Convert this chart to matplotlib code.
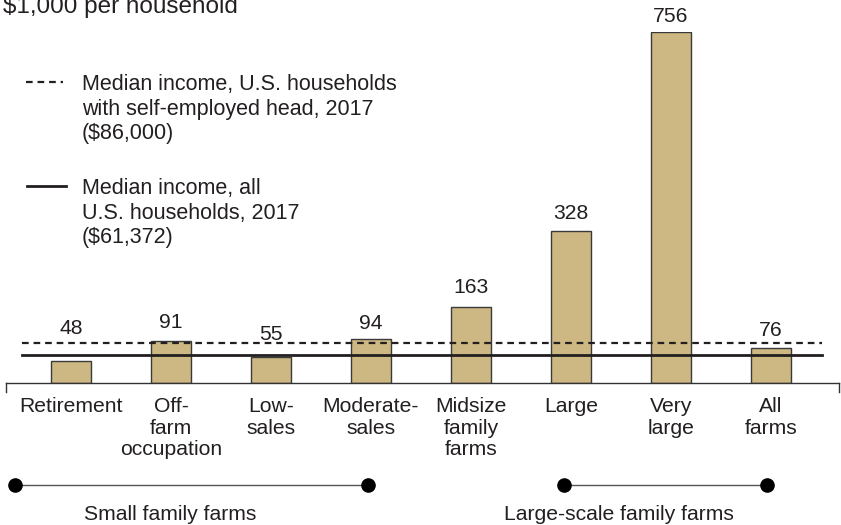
import matplotlib
matplotlib.use('agg')
import matplotlib.pyplot as plt
import numpy as np

plt.rcParams['font.family'] = ['Liberation Sans', 'DejaVu Sans']

categories = ['Retirement', 'Off-\nfarm\noccupation', 'Low-\nsales', 'Moderate-\nsales',
              'Midsize\nfamily\nfarms', 'Large', 'Very\nlarge', 'All\nfarms']
income = [48, 91, 55, 94, 163, 328, 756, 76]   # $1,000 per household
median_self_employed = 86.0
median_all = 61.372
groups = ['Small family farms', 'Large-scale family farms']
group_span = [(-0.56, 2.97), (4.93, 6.96)]
group_label_x = [0.99, 5.48]

# pixel gap between bar top and value label (48 and 55 lifted over the lines)
label_gap_px = [32, 18, 23, 16, 20, 17, 15, 17]

W, H = 841, 525
fig = plt.figure(figsize=(W / 100, H / 100), dpi=100)
# axes: baseline at y=383px, 756 at y=32px; x from 6px to 839px
ax = fig.add_axes([6 / W, (H - 383) / H, (839 - 6) / W, 351 / H])
x = np.arange(len(income))
ax.set_xlim((6 - 71) / 100, (839 - 71) / 100)
ax.set_ylim(0, 756)
upp = 756 / 351.0  # data units per pixel

txt = '#231f20'
ax.bar(x, income, width=0.4, color='#cdb883', edgecolor='#3a3a3a', linewidth=1.0, zorder=2)

xl = ax.get_xlim()
ax.plot([-0.49, 7.51], [median_self_employed] * 2, color='#231f20', lw=1.6,
        linestyle=(0, (3, 2.2)), zorder=3, clip_on=False)
ax.plot([-0.49, 7.51], [median_all] * 2, color='#231f20', lw=2.0, zorder=3, clip_on=False)

for i, v in enumerate(income):
    ax.text(i, v + label_gap_px[i] * upp, str(v), ha='center', va='center',
            fontsize=15.2, color=txt, clip_on=False)

for s in ['top', 'left', 'right']:
    ax.spines[s].set_visible(False)
ax.spines['bottom'].set_color('#333333')
ax.spines['bottom'].set_linewidth(1.0)
ax.set_yticks([])
ax.set_xticks(x)
ax.set_xticklabels(categories, fontsize=15.2, color=txt, linespacing=1.18, va='top')
ax.tick_params(axis='x', length=0, pad=10)
for xe in xl:
    ax.plot([xe, xe], [0, -9 * upp], color='#333333', lw=1.0, clip_on=False)

# group brackets
for name, (a, b), lx in zip(groups, group_span, group_label_x):
    ax.plot([a, b], [-102 * upp] * 2, color='#555555', lw=1.0, clip_on=False, zorder=3)
    ax.plot([a, b], [-102 * upp] * 2, 'o', color='black', ms=9.5, clip_on=False, zorder=4)
    ax.text(lx, -131 * upp, name, ha='center', va='center',
            fontsize=15.2, color=txt, clip_on=False)

# title (unit)
fig.text(3 / W, 1 - 13 / H, r'\$1,000 per household', fontsize=17.5, color=txt,
         ha='left', va='baseline')

# legend
fig.add_artist(plt.Line2D([26 / W, 63 / W], [1 - 82 / H] * 2, color='#231f20', lw=1.6,
                          linestyle=(0, (3, 2.2))))
fig.text(82 / W, 1 - 74 / H, 'Median income, U.S. households\nwith self-employed head, 2017\n($86,000)',
         fontsize=15.5, color=txt, ha='left', va='top', linespacing=1.22)
fig.add_artist(plt.Line2D([27 / W, 66 / W], [1 - 186 / H] * 2, color='#231f20', lw=2.0))
fig.text(82 / W, 1 - 178 / H, 'Median income, all\nU.S. households, 2017\n($61,372)',
         fontsize=15.5, color=txt, ha='left', va='top', linespacing=1.22)

fig.savefig('out.png', dpi=100)
